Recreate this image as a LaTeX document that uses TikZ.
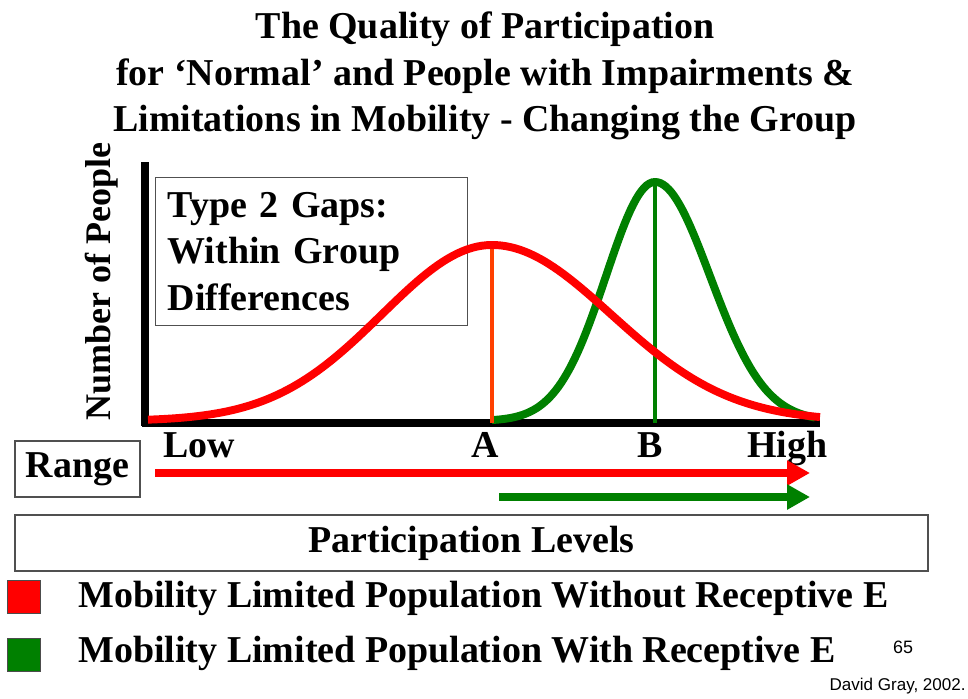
\documentclass[tikz,border=0pt]{standalone}
\usepackage{fontspec}
\setmainfont{Liberation Serif}
\newfontfamily\creditfont{Liberation Sans}
\usetikzlibrary{arrows.meta,positioning}
\definecolor{curvered}{RGB}{255,0,0}
\definecolor{curvegreen}{RGB}{0,128,0}
\definecolor{peakred}{RGB}{255,64,0}
\definecolor{boxgray}{RGB}{80,80,80}

\begin{document}
\begin{tikzpicture}
	[x=0.02cm,y=-0.02cm,
	big text/.style={font=\fontsize{21.6}{26.5}\selectfont\bfseries,inner sep=0pt},
	frame box/.style={draw=boxgray,line width=0.7pt},
	axis line/.style={black,line width=4pt},
	red curve/.style={curvered,line width=4.5pt},
	green curve/.style={curvegreen,line width=4.5pt},
	range arrow/.style={line width=4.5pt,-{Triangle[length=4.6mm,width=4.8mm]}},
	key box/.style={draw=black!70,line width=0.5pt,minimum size=0.66cm,inner sep=0pt}]
	\useasboundingbox[fill=white] (0,0) rectangle (968,698);

	\node [big text,align=center] (title) at (485,76)
	{The Quality of Participation\\
	for `Normal' and People with Impairments \&\\
	Limitations in Mobility - Changing the Group};

	\node [big text,font=\fontsize{20.5}{24}\selectfont\bfseries,rotate=90,anchor=base west] (ylabel) at (110,421) {Number of People};

	\node [big text,frame box,anchor=north west,align=left,text width=5.76cm,
		inner xsep=0.24cm,minimum height=2.96cm] (gapbox) at (155,177)
	{Type 2 Gaps:\\Within Group\\Differences};

	% axes
	\coordinate (origin) at (145,423);
	\coordinate (ytop) at (145,162);
	\coordinate (xend) at (820,423);
	\draw [axis line] (ytop) -- ([yshift=-0.06cm]origin);
	\draw [axis line] ([xshift=-0.06cm]origin) -- (xend);

	% green group
	\draw [green curve] plot[domain=492:655,samples=60]
		(\x,{421-239*exp(-0.5*(((\x-655)/49)^2))})
		-- plot[domain=655:815,samples=60]
		(\x,{421-239*exp(-0.5*(((\x-655)/55)^2))});
	\coordinate (peakB) at (655,182);
	\coordinate (footB) at (655,423);
	\draw [curvegreen,line width=2.8pt] (peakB) -- (footB);

	% red group
	\coordinate (peakA) at (492,245);
	\coordinate (footA) at (492,423);
	\draw [peakred,line width=2.3pt] (peakA) -- (footA);
	\draw [red curve] plot[domain=148:492,samples=70]
		(\x,{421-176*exp(-0.5*(((\x-492)/110)^2))})
		-- plot[domain=492:820,samples=70]
		(\x,{421-176*exp(-0.5*(((\x-492)/119)^2))});

	\node [big text,anchor=base west] (low) at (163,457) {Low};
	\node [big text,anchor=base] (lblA) at (485,457) {A};
	\node [big text,anchor=base] (lblB) at (650,457) {B};
	\node [big text,anchor=base west] (high) at (747,457) {High};

	\node [big text,frame box,minimum width=2.5cm,minimum height=1.12cm] (range) at (77.5,469) {Range};

	\coordinate (redstart) at (155,473);
	\coordinate (redend) at (810,473);
	\coordinate (greenstart) at (499,497);
	\coordinate (greenend) at (810,497);
	\draw [range arrow,curvered] (redstart) -- (redend);
	\draw [range arrow,curvegreen] (greenstart) -- (greenend);

	\node [big text,frame box,minimum width=18.26cm,minimum height=1.12cm] (levels) at (471.5,543) {Participation Levels};

	\node [key box,fill=curvered] (keyred) at (23.5,596.5) {};
	\node [key box,fill=curvegreen] (keygreen) at (23.5,654.5) {};
	\node [big text,anchor=base west] (textred) at (78,607) {Mobility Limited Population Without Receptive E};
	\node [big text,anchor=base west] (textgreen) at (78,662) {Mobility Limited Population With Receptive E};

	\node [font=\creditfont\fontsize{10.2}{12}\selectfont,inner sep=0pt,anchor=base] (pagenum) at (903,653) {65};
	\node [font=\creditfont\fontsize{9.7}{12}\selectfont,inner sep=0pt,anchor=base east] (credit) at (966,690) {David Gray, 2002.};
\end{tikzpicture}
\end{document}
